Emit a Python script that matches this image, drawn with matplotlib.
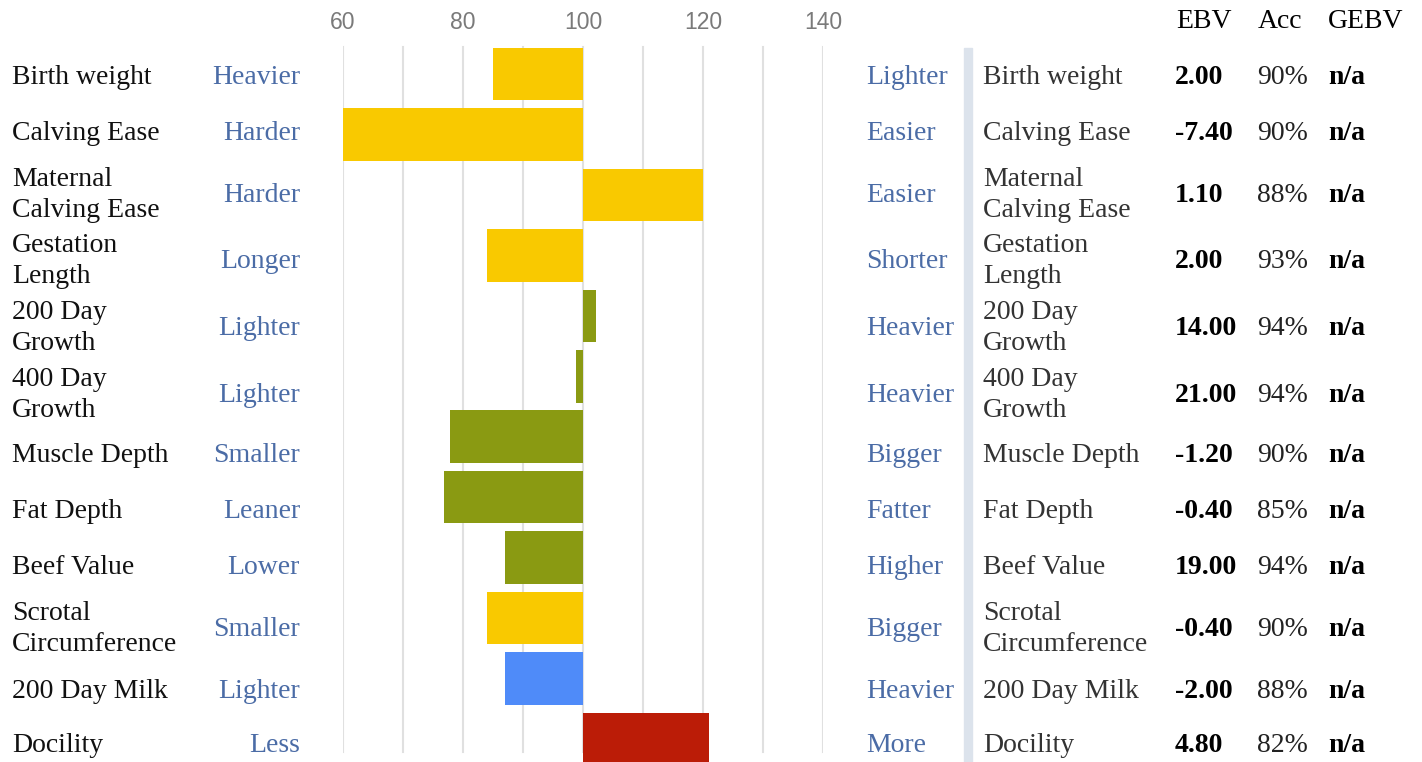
import matplotlib
matplotlib.use("Agg")
import matplotlib.pyplot as plt
from matplotlib.patches import Rectangle

# trait names, direction words and values
traits = ["Birth weight", "Calving Ease", "Maternal\nCalving Ease", "Gestation\nLength",
          "200 Day\nGrowth", "400 Day\nGrowth", "Muscle Depth", "Fat Depth", "Beef Value",
          "Scrotal\nCircumference", "200 Day Milk", "Docility"]
low_words = ["Heavier", "Harder", "Harder", "Longer", "Lighter", "Lighter", "Smaller",
             "Leaner", "Lower", "Smaller", "Lighter", "Less"]
high_words = ["Lighter", "Easier", "Easier", "Shorter", "Heavier", "Heavier", "Bigger",
              "Fatter", "Higher", "Bigger", "Heavier", "More"]
index_vals = [85, 60, 120, 84, 102.1, 98.8, 77.8, 76.8, 87, 84, 87, 121]
ebv = ["2.00", "-7.40", "1.10", "2.00", "14.00", "21.00", "-1.20", "-0.40", "19.00",
       "-0.40", "-2.00", "4.80"]
acc = ["90%", "90%", "88%", "93%", "94%", "94%", "90%", "85%", "94%", "90%", "88%", "82%"]
gebv = ["n/a"] * 12
bar_colors = ["#F9C900", "#F9C900", "#F9C900", "#F9C900", "#8A9A12", "#8A9A12", "#8A9A12",
              "#8A9A12", "#8A9A12", "#F9C900", "#4F8BF9", "#BB1C07"]

W, H = 1422, 762
# table row centres (pixels from top) - the html rows are not evenly tall
row_y = [77, 133, 195, 261, 328, 395, 455, 512, 567, 629, 691, 745]

fig = plt.figure(figsize=(W / 100, H / 100), dpi=100)

def fx(px):
    return px / W

def fy(py):
    return 1 - py / H

# bar chart area: rows evenly spaced, centre of first ~74px, step ~60.45px
top_px, bot_px = 43.8, 769.2
ax = fig.add_axes([fx(343), fy(bot_px), fx(823) - fx(343), (bot_px - top_px) / H])
ypos = list(range(len(traits)))
ax.barh(ypos, [v - 100 for v in index_vals], left=100, height=0.87,
        color=bar_colors, zorder=3)
ax.set_xlim(60, 140)
ax.set_ylim(len(traits) - 0.5, -0.5)
g_lo = 1 - (752 - top_px) / (bot_px - top_px)
g_hi = 1 - (47 - top_px) / (bot_px - top_px)
for gx in range(60, 141, 10):
    ax.axvline(gx, ymin=g_lo, ymax=g_hi, color="#E0E0E0", lw=1.5, zorder=1)
for s in ax.spines.values():
    s.set_visible(False)
ax.set_yticks([])
ax.xaxis.tick_top()
ax.set_xticks([60, 80, 100, 120, 140])
ax.tick_params(axis="x", length=0, pad=7, labelsize=16.5, labelcolor="#7A7A7A")
for t in ax.get_xticklabels():
    t.set_fontfamily("Liberation Sans")
ax.patch.set_alpha(0)

# separator strip
fig.patches.append(Rectangle((fx(964), 0), fx(8), fy(48), transform=fig.transFigure,
                             color="#DCE3EC", zorder=0))

serif = "Liberation Serif"
fs = 20
blue = "#4B6CA6"
for i in range(len(traits)):
    y = fy(row_y[i])
    fig.text(fx(12), y, traits[i], ha="left", va="center", fontsize=fs,
             family=serif, color="#111111", linespacing=1.3)
    fig.text(fx(300), y, low_words[i], ha="right", va="center", fontsize=fs,
             family=serif, color=blue)
    fig.text(fx(866), y, high_words[i], ha="left", va="center", fontsize=fs,
             family=serif, color=blue)
    fig.text(fx(983), y, traits[i], ha="left", va="center", fontsize=fs,
             family=serif, color="#333333", linespacing=1.3)
    fig.text(fx(1175), y, ebv[i], ha="left", va="center", fontsize=fs,
             family=serif, weight="bold", color="black")
    fig.text(fx(1257), y, acc[i], ha="left", va="center", fontsize=fs,
             family=serif, color="#222222")
    fig.text(fx(1328), y, gebv[i], ha="left", va="center", fontsize=fs,
             family=serif, weight="bold", color="black")

for lbl, x in [("EBV", 1176), ("Acc", 1258), ("GEBV", 1328)]:
    fig.text(fx(x), fy(22), lbl, ha="left", va="center", fontsize=fs,
             family=serif, color="black")

plt.savefig("out.png", dpi=100)
